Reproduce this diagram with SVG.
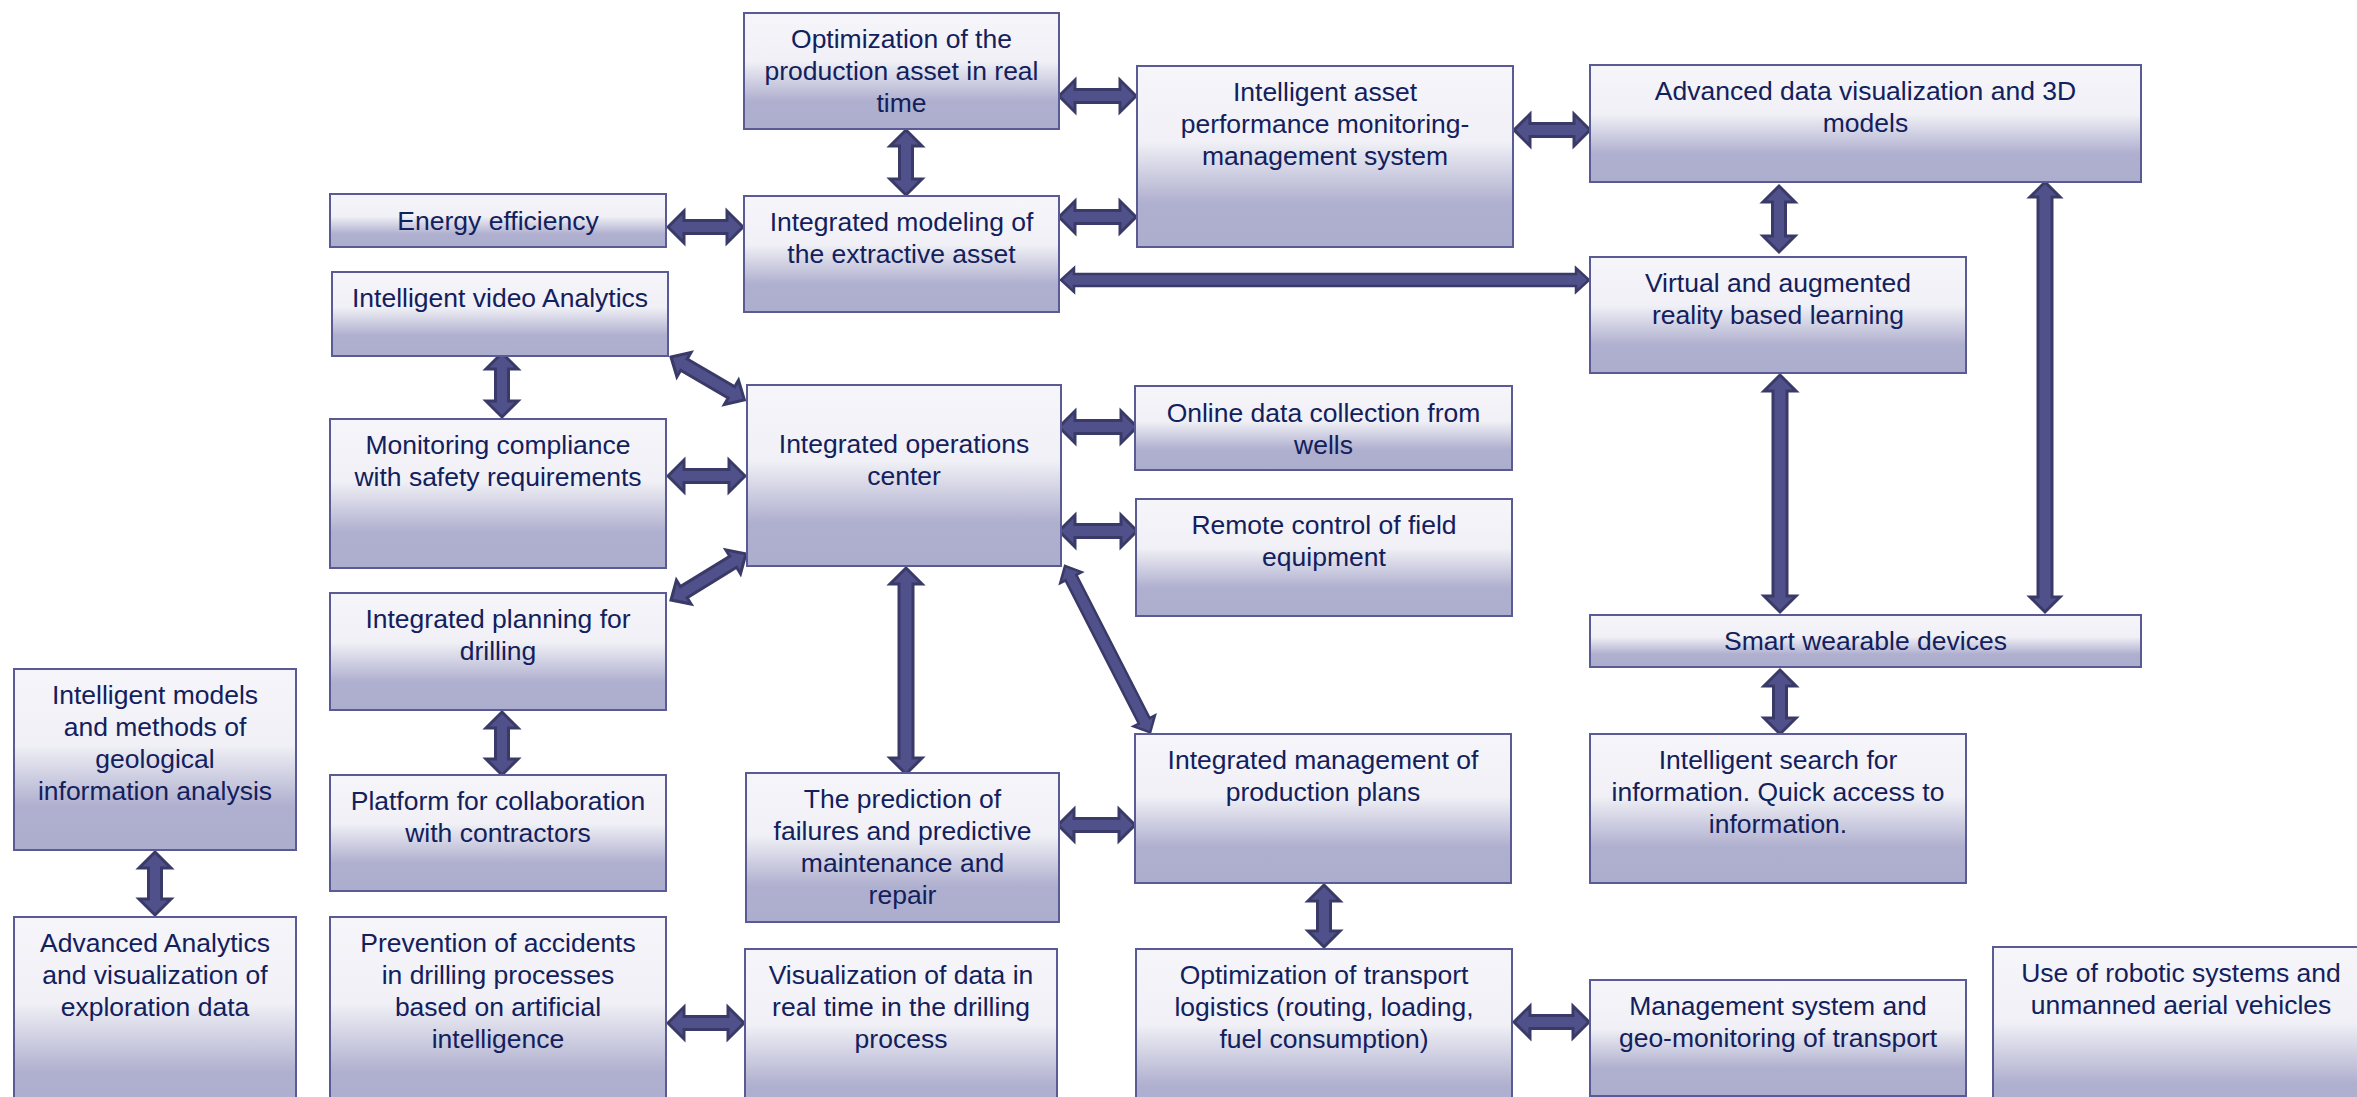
<svg xmlns="http://www.w3.org/2000/svg" width="2357" height="1097" viewBox="0 0 2357 1097">
  <defs>
    <linearGradient id="boxfill" x1="0" y1="0" x2="0" y2="1">
      <stop offset="0" stop-color="#F5F5FA"/>
      <stop offset="0.42" stop-color="#F0F0F6"/>
      <stop offset="0.76" stop-color="#AFAFCF"/>
      <stop offset="1" stop-color="#ADADCD"/>
    </linearGradient>
    <style>
      .box rect { fill: url(#boxfill); stroke: #5A5A94; stroke-width: 2; }
      .box text { font-family: "Liberation Sans", Arial, sans-serif; font-size: 26.5px; fill: #12205C; text-anchor: middle; }
      .arr { fill: #50508A; stroke: #3A3A68; stroke-width: 3; stroke-linejoin: miter; }
      .arr.thin { stroke-width: 2.5; }
    </style>
  </defs>
  <rect width="2357" height="1097" fill="#FFFFFF"/>

  <!-- connectors: double-headed block arrows drawn along +x then placed -->
  <g id="connectors">
    <path class="arr" transform="translate(1059,96)" d="M0,0 L16,-16 L16,-6.5 L61,-6.5 L61,-16 L77,0 L61,16 L61,6.5 L16,6.5 L16,16 Z"/>
    <path class="arr" transform="translate(1059,217)" d="M0,0 L16,-16 L16,-6.5 L61,-6.5 L61,-16 L77,0 L61,16 L61,6.5 L16,6.5 L16,16 Z"/>
    <path class="arr" transform="translate(906,130) rotate(90)" d="M0,0 L16,-16 L16,-6.5 L49,-6.5 L49,-16 L65,0 L49,16 L49,6.5 L16,6.5 L16,16 Z"/>
    <path class="arr" transform="translate(668,227)" d="M0,0 L16,-16 L16,-6.5 L59,-6.5 L59,-16 L75,0 L59,16 L59,6.5 L16,6.5 L16,16 Z"/>
    <path class="arr" transform="translate(1514,130)" d="M0,0 L16,-16 L16,-6.5 L60,-6.5 L60,-16 L76,0 L60,16 L60,6.5 L16,6.5 L16,16 Z"/>
    <path class="arr thin" transform="translate(1061,280)" d="M0,0 L13,-12 L13,-6 L515,-6 L515,-12 L528,0 L515,12 L515,6 L13,6 L13,12 Z"/>
    <path class="arr" transform="translate(1779,186) rotate(90)" d="M0,0 L16,-16 L16,-6.5 L50,-6.5 L50,-16 L66,0 L50,16 L50,6.5 L16,6.5 L16,16 Z"/>
    <path class="arr" transform="translate(1780,375) rotate(90)" d="M0,0 L16,-16 L16,-7 L221,-7 L221,-16 L237,0 L221,16 L221,7 L16,7 L16,16 Z"/>
    <path class="arr" transform="translate(2045,182) rotate(90)" d="M0,0 L15,-15 L15,-7 L415,-7 L415,-15 L430,0 L415,15 L415,7 L15,7 L15,15 Z"/>
    <path class="arr" transform="translate(1780,670) rotate(90)" d="M0,0 L16,-16 L16,-6.5 L48,-6.5 L48,-16 L64,0 L48,16 L48,6.5 L16,6.5 L16,16 Z"/>
    <path class="arr" transform="translate(502,353) rotate(90)" d="M0,0 L16,-16 L16,-6.5 L48,-6.5 L48,-16 L64,0 L48,16 L48,6.5 L16,6.5 L16,16 Z"/>
    <path class="arr" transform="translate(671,357) rotate(30.3)" d="M0,0 L15,-14 L15,-6.5 L70,-6.5 L70,-14 L85,0 L70,14 L70,6.5 L15,6.5 L15,14 Z"/>
    <path class="arr" transform="translate(668,476)" d="M0,0 L16,-16 L16,-6.5 L61,-6.5 L61,-16 L77,0 L61,16 L61,6.5 L16,6.5 L16,16 Z"/>
    <path class="arr" transform="translate(1059,427)" d="M0,0 L16,-16 L16,-6.5 L62,-6.5 L62,-16 L78,0 L62,16 L62,6.5 L16,6.5 L16,16 Z"/>
    <path class="arr" transform="translate(1059,531)" d="M0,0 L16,-16 L16,-6.5 L62,-6.5 L62,-16 L78,0 L62,16 L62,6.5 L16,6.5 L16,16 Z"/>
    <path class="arr" transform="translate(671,600) rotate(-31.6)" d="M0,0 L15,-14 L15,-6.5 L73,-6.5 L73,-14 L88,0 L73,14 L73,6.5 L15,6.5 L15,14 Z"/>
    <path class="arr" transform="translate(906,568) rotate(90)" d="M0,0 L16,-16 L16,-7 L190,-7 L190,-16 L206,0 L190,16 L190,7 L16,7 L16,16 Z"/>
    <path class="arr thin" transform="translate(1065,566) rotate(62.9)" d="M0,0 L13,-12 L13,-6 L174,-6 L174,-12 L187,0 L174,12 L174,6 L13,6 L13,12 Z"/>
    <path class="arr" transform="translate(1058,825)" d="M0,0 L16,-16 L16,-6.5 L61,-6.5 L61,-16 L77,0 L61,16 L61,6.5 L16,6.5 L16,16 Z"/>
    <path class="arr" transform="translate(1324,885) rotate(90)" d="M0,0 L16,-16 L16,-6.5 L46,-6.5 L46,-16 L62,0 L46,16 L46,6.5 L16,6.5 L16,16 Z"/>
    <path class="arr" transform="translate(1514,1022)" d="M0,0 L16,-16 L16,-6.5 L59,-6.5 L59,-16 L75,0 L59,16 L59,6.5 L16,6.5 L16,16 Z"/>
    <path class="arr" transform="translate(502,712) rotate(90)" d="M0,0 L16,-16 L16,-6.5 L47,-6.5 L47,-16 L63,0 L47,16 L47,6.5 L16,6.5 L16,16 Z"/>
    <path class="arr" transform="translate(155,852) rotate(90)" d="M0,0 L16,-16 L16,-6.5 L47,-6.5 L47,-16 L63,0 L47,16 L47,6.5 L16,6.5 L16,16 Z"/>
    <path class="arr" transform="translate(668,1023)" d="M0,0 L16,-16 L16,-6.5 L60,-6.5 L60,-16 L76,0 L60,16 L60,6.5 L16,6.5 L16,16 Z"/>
  </g>

  <!-- nodes -->
  <g id="opt-asset" class="box">
    <rect x="744" y="13" width="315" height="116"/>
    <text x="901.5" y="48"><tspan x="901.5">Optimization of the</tspan><tspan x="901.5" dy="32">production asset in real</tspan><tspan x="901.5" dy="32">time</tspan></text>
  </g>
  <g id="asset-monitoring" class="box">
    <rect x="1137" y="66" width="376" height="181"/>
    <text x="1325" y="101"><tspan x="1325">Intelligent asset</tspan><tspan x="1325" dy="32">performance monitoring-</tspan><tspan x="1325" dy="32">management system</tspan></text>
  </g>
  <g id="data-visualization" class="box">
    <rect x="1590" y="65" width="551" height="117"/>
    <text x="1865.5" y="100"><tspan x="1865.5">Advanced data visualization and 3D</tspan><tspan x="1865.5" dy="32">models</tspan></text>
  </g>
  <g id="energy" class="box">
    <rect x="330" y="194" width="336" height="53"/>
    <text x="498" y="230">Energy efficiency</text>
  </g>
  <g id="asset-modeling" class="box">
    <rect x="744" y="196" width="315" height="116"/>
    <text x="901.5" y="231"><tspan x="901.5">Integrated modeling of</tspan><tspan x="901.5" dy="32">the extractive asset</tspan></text>
  </g>
  <g id="vr-learning" class="box">
    <rect x="1590" y="257" width="376" height="116"/>
    <text x="1778" y="292"><tspan x="1778">Virtual and augmented</tspan><tspan x="1778" dy="32">reality based learning</tspan></text>
  </g>
  <g id="video-analytics" class="box">
    <rect x="332" y="272" width="336" height="84"/>
    <text x="500" y="307">Intelligent video Analytics</text>
  </g>
  <g id="operations-center" class="box">
    <rect x="747" y="385" width="314" height="181"/>
    <text x="904" y="453"><tspan x="904">Integrated operations</tspan><tspan x="904" dy="32">center</tspan></text>
  </g>
  <g id="online-data" class="box">
    <rect x="1135" y="386" width="377" height="84"/>
    <text x="1323.5" y="422"><tspan x="1323.5">Online data collection from</tspan><tspan x="1323.5" dy="32">wells</tspan></text>
  </g>
  <g id="safety" class="box">
    <rect x="330" y="419" width="336" height="149"/>
    <text x="498" y="454"><tspan x="498">Monitoring compliance</tspan><tspan x="498" dy="32">with safety requirements</tspan></text>
  </g>
  <g id="remote-control" class="box">
    <rect x="1136" y="499" width="376" height="117"/>
    <text x="1324" y="534"><tspan x="1324">Remote control of field</tspan><tspan x="1324" dy="32">equipment</tspan></text>
  </g>
  <g id="drilling-planning" class="box">
    <rect x="330" y="593" width="336" height="117"/>
    <text x="498" y="628"><tspan x="498">Integrated planning for</tspan><tspan x="498" dy="32">drilling</tspan></text>
  </g>
  <g id="wearables" class="box">
    <rect x="1590" y="615" width="551" height="52"/>
    <text x="1865.5" y="650">Smart wearable devices</text>
  </g>
  <g id="geo-models" class="box">
    <rect x="14" y="669" width="282" height="181"/>
    <text x="155" y="704"><tspan x="155">Intelligent models</tspan><tspan x="155" dy="32">and methods of</tspan><tspan x="155" dy="32">geological</tspan><tspan x="155" dy="32">information analysis</tspan></text>
  </g>
  <g id="production-plans" class="box">
    <rect x="1135" y="734" width="376" height="149"/>
    <text x="1323" y="769"><tspan x="1323">Integrated management of</tspan><tspan x="1323" dy="32">production plans</tspan></text>
  </g>
  <g id="info-search" class="box">
    <rect x="1590" y="734" width="376" height="149"/>
    <text x="1778" y="769"><tspan x="1778">Intelligent search for</tspan><tspan x="1778" dy="32">information. Quick access to</tspan><tspan x="1778" dy="32">information.</tspan></text>
  </g>
  <g id="failure-prediction" class="box">
    <rect x="746" y="773" width="313" height="149"/>
    <text x="902.5" y="808"><tspan x="902.5">The prediction of</tspan><tspan x="902.5" dy="32">failures and predictive</tspan><tspan x="902.5" dy="32">maintenance and</tspan><tspan x="902.5" dy="32">repair</tspan></text>
  </g>
  <g id="contractors" class="box">
    <rect x="330" y="775" width="336" height="116"/>
    <text x="498" y="810"><tspan x="498">Platform for collaboration</tspan><tspan x="498" dy="32">with contractors</tspan></text>
  </g>
  <g id="exploration-analytics" class="box">
    <rect x="14" y="917" width="282" height="205"/>
    <text x="155" y="952"><tspan x="155">Advanced Analytics</tspan><tspan x="155" dy="32">and visualization of</tspan><tspan x="155" dy="32">exploration data</tspan></text>
  </g>
  <g id="accident-prevention" class="box">
    <rect x="330" y="917" width="336" height="205"/>
    <text x="498" y="952"><tspan x="498">Prevention of accidents</tspan><tspan x="498" dy="32">in drilling processes</tspan><tspan x="498" dy="32">based on artificial</tspan><tspan x="498" dy="32">intelligence</tspan></text>
  </g>
  <g id="drilling-visualization" class="box">
    <rect x="745" y="949" width="312" height="180"/>
    <text x="901" y="984"><tspan x="901">Visualization of data in</tspan><tspan x="901" dy="32">real time in the drilling</tspan><tspan x="901" dy="32">process</tspan></text>
  </g>
  <g id="transport-logistics" class="box">
    <rect x="1136" y="949" width="376" height="180"/>
    <text x="1324" y="984"><tspan x="1324">Optimization of transport</tspan><tspan x="1324" dy="32">logistics (routing, loading,</tspan><tspan x="1324" dy="32">fuel consumption)</tspan></text>
  </g>
  <g id="transport-monitoring" class="box">
    <rect x="1590" y="980" width="376" height="116"/>
    <text x="1778" y="1015"><tspan x="1778">Management system and</tspan><tspan x="1778" dy="32">geo-monitoring of transport</tspan></text>
  </g>
  <g id="robotics" class="box">
    <rect x="1993" y="947" width="376" height="180"/>
    <text x="2181" y="982"><tspan x="2181">Use of robotic systems and</tspan><tspan x="2181" dy="32">unmanned aerial vehicles</tspan></text>
  </g>
</svg>
